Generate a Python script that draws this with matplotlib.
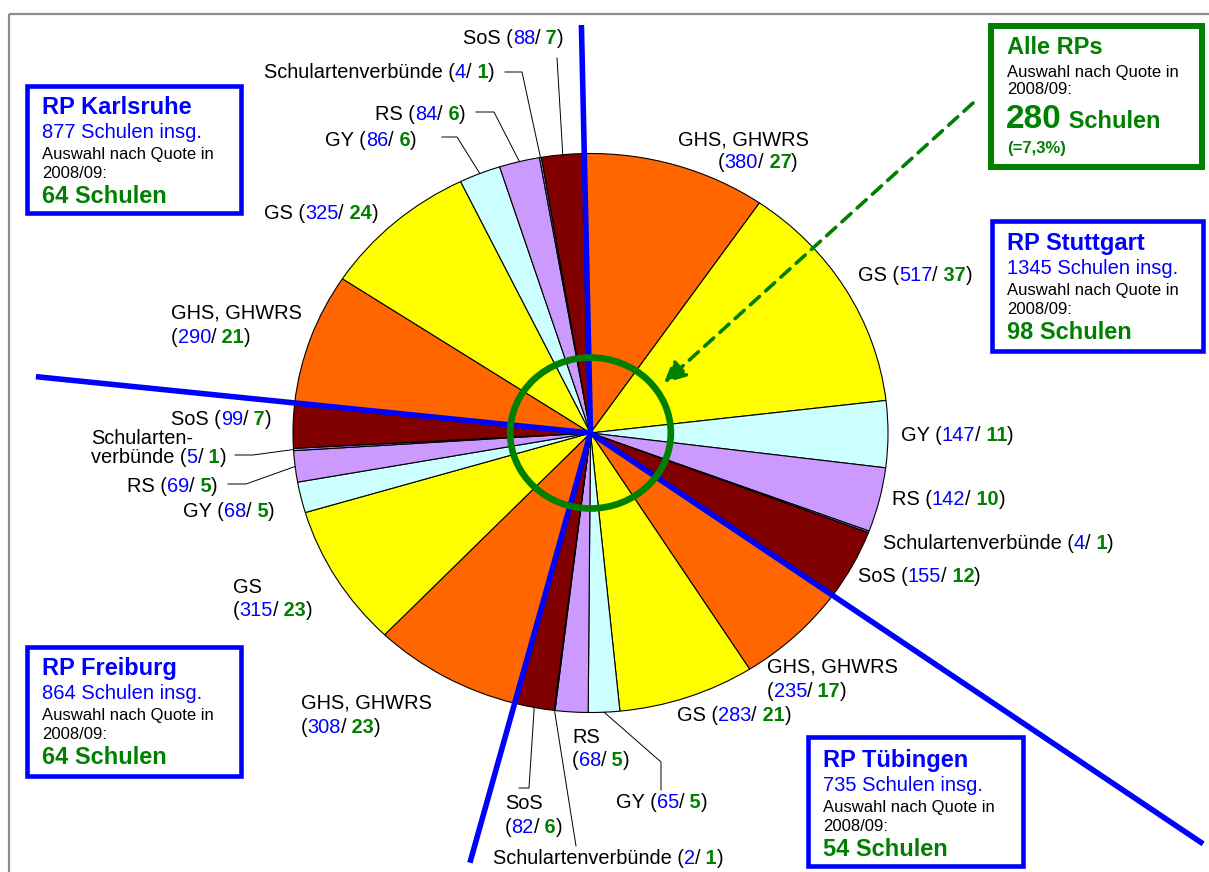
import numpy as np
import matplotlib.pyplot as plt
from matplotlib.patches import Rectangle, Ellipse
from matplotlib.offsetbox import TextArea, HPacker, AnnotationBbox

plt.rcParams['font.family'] = ['Liberation Sans', 'DejaVu Sans']

# Schulen je Regierungspraesidium und Schulart: Gesamtzahl / ausgewaehlt
school_types = ['GHS, GHWRS', 'GS', 'GY', 'RS', 'Schulartenverbünde', 'SoS']
type_colors = ['#FF6600', '#FFFF00', '#CCFFFF', '#CC99FF', '#9999FF', '#800000']

regions = ['Stuttgart', 'Tübingen', 'Freiburg', 'Karlsruhe']
totals_stuttgart = [380, 517, 147, 142, 4, 155]
chosen_stuttgart = [27, 37, 11, 10, 1, 12]
totals_tuebingen = [235, 283, 65, 68, 2, 82]
chosen_tuebingen = [17, 21, 5, 5, 1, 6]
totals_freiburg = [308, 315, 68, 69, 5, 99]
chosen_freiburg = [23, 23, 5, 5, 1, 7]
totals_karlsruhe = [290, 325, 86, 84, 4, 88]
chosen_karlsruhe = [21, 24, 6, 6, 1, 7]
region_quota = [98, 54, 64, 64]

region_totals = [totals_stuttgart, totals_tuebingen, totals_freiburg, totals_karlsruhe]
totals = sum(region_totals, [])
chosen = chosen_stuttgart + chosen_tuebingen + chosen_freiburg + chosen_karlsruhe
colors = type_colors * len(regions)
grand = sum(totals)

W, H = 1209, 872
BLUE, GREEN = '#0000FF', '#008000'
LABEL_FS = 14.4

fig = plt.figure(figsize=(W / 100, H / 100), dpi=100)

# overlay in pixel coordinates for labels, boxes and lines
ov = fig.add_axes([0, 0, 1, 1], zorder=2)
ov.set_xlim(0, W)
ov.set_ylim(H, 0)
ov.axis('off')

# the pie is slightly flattened
cx, cy, rx, ry = 590.5, 433, 297.5, 279.5
start = 91.2
pax = fig.add_axes([(cx - rx) / W, (H - cy - ry) / H, 2 * rx / W, 2 * ry / H], zorder=1)
wedges, _ = pax.pie(totals, colors=colors, startangle=start, counterclock=False,
                    radius=1, wedgeprops=dict(edgecolor='black', linewidth=0.8))
pax.set_aspect('auto')
pax.set_xlim(-1, 1)
pax.set_ylim(-1, 1)
pax.axis('off')


def to_px(angle, t=1.0):
    a = np.radians(angle)
    return cx + t * rx * np.cos(a), cy - t * ry * np.sin(a)


# outer frame
ov.add_patch(Rectangle((9, 14), 1400, 1000, fill=False, edgecolor='#8C8C8C', lw=1.6))

# region dividers
ends = np.cumsum([sum(t) for t in region_totals])
reach = [2.53, 1.59, 1.875, 1.46]
for end, t in zip(ends, reach):
    x1, y1 = to_px(start - 360 * end / grand, t)
    ov.plot([cx, x1], [cy, y1], color=BLUE, lw=4, solid_capstyle='butt', zorder=3)

ov.add_patch(Ellipse((cx, cy), 2 * 0.27 * rx, 2 * 0.27 * ry, fill=False,
                     edgecolor=GREEN, lw=4.8, zorder=4))

# dashed arrow from the summary box to the centre
ov.annotate('', xy=(664, 383), xytext=(973, 103),
            arrowprops=dict(arrowstyle='-|>,head_length=1.3,head_width=0.65',
                            color=GREEN, lw=2.6, linestyle=(0, (3.4, 2.3)),
                            shrinkA=0, shrinkB=0), zorder=5)


def rich(x, y, parts, size=LABEL_FS):
    boxes = [TextArea(s, textprops=dict(color=c, fontsize=fs or size,
                                        fontweight='bold' if b else 'normal'))
             for s, c, b, fs in parts]
    row = HPacker(children=boxes, align='baseline', pad=0, sep=0)
    ov.add_artist(AnnotationBbox(row, (x, y), xycoords='data', box_alignment=(0, 0.5),
                                 frameon=False, pad=0, zorder=6))


# label layout: first line (x, y), optional second line (x, y)
label_pos = [
    (678, 140, 718, 163), (858, 275, None, None), (901, 435, None, None),
    (892, 499, None, None), (883, 543, None, None), (858, 576, None, None),
    (767, 667, 767, 691), (677, 715, None, None), (616, 802, None, None),
    (572, 737, 572, 760), (493, 858, None, None), (505, 803, 505, 827),
    (301, 703, 301, 727), (233, 587, 233, 610), (183, 511, None, None),
    (127, 486, None, None), (91, 438, 91, 457), (171, 419, None, None),
    (171, 313, 171, 337), (264, 213, None, None), (325, 141, None, None),
    (375, 114, None, None), (264, 72, None, None), (463, 38, None, None),
]
split_names = {16: ('Schularten-', 'verbünde ')}
leaders = {
    8: [(661, 790), (661, 762)],
    10: [(576, 846)],
    11: [(519, 788), (529, 788)],
    15: [(228, 484), (246, 484)],
    16: [(235, 455), (253, 455)],
    20: [(442, 137), (457, 137)],
    21: [(476, 112), (494, 112)],
    22: [(505, 72), (522, 72)],
    23: [(557, 58)],
}

for i, (tot, sel) in enumerate(zip(totals, chosen)):
    name = school_types[i % len(school_types)]
    x1, y1, x2, y2 = label_pos[i]
    values = [(str(tot), BLUE, False, None), ('/', 'black', False, None),
              (' ' + str(sel), GREEN, True, None), (')', 'black', False, None)]
    if x2 is None:
        rich(x1, y1, [(name + ' (', 'black', False, None)] + values)
    else:
        first, prefix = split_names.get(i, (name, ''))
        rich(x1, y1, [(first, 'black', False, None)])
        rich(x2, y2, [(prefix + '(', 'black', False, None)] + values)
    if i in leaders:
        w = wedges[i]
        ex, ey = to_px((w.theta1 + w.theta2) / 2)
        pts = leaders[i] + [(ex, ey)]
        ov.plot([p[0] for p in pts], [p[1] for p in pts], color='black', lw=0.7, zorder=5)

# summary boxes per region
box_rects = {
    'Stuttgart': (990, 219, 1205, 353),
    'Tübingen': (806, 735, 1025, 868),
    'Freiburg': (25, 645, 243, 778),
    'Karlsruhe': (25, 84, 243, 215),
}
box_tops = {'Stuttgart': 243, 'Tübingen': 760, 'Freiburg': 668, 'Karlsruhe': 107}
for name, tot, quota in zip(regions, region_totals, region_quota):
    x0, y0, x1, y1 = box_rects[name]
    ov.add_patch(Rectangle((x0 + 2, y0 + 2), x1 - x0 - 4, y1 - y0 - 4, fill=False,
                           edgecolor=BLUE, lw=3.3, zorder=6))
    tx, ty = x0 + 17, box_tops[name]
    ov.text(tx, ty, 'RP ' + name, color=BLUE, fontsize=17, fontweight='bold', va='center')
    ov.text(tx, ty + 25, f'{sum(tot)} Schulen insg.', color=BLUE, fontsize=14.5, va='center')
    ov.text(tx, ty + 47, 'Auswahl nach Quote in', color='black', fontsize=12, va='center')
    ov.text(tx, ty + 66, '2008/09:', color='black', fontsize=12, va='center')
    ov.text(tx, ty + 89, f'{quota} Schulen', color=GREEN, fontsize=17, fontweight='bold',
            va='center')

# overall box
ov.add_patch(Rectangle((991, 26), 211, 141, fill=False, edgecolor=GREEN, lw=4.3, zorder=6))
ov.text(1007, 48, 'Alle RPs', color=GREEN, fontsize=17, fontweight='bold', va='center')
ov.text(1007, 72, 'Auswahl nach Quote in', color='black', fontsize=12, va='center')
ov.text(1007, 90, '2008/09:', color='black', fontsize=12, va='center')
n_all = sum(region_quota)
rich(1006, 120, [(str(n_all), GREEN, True, 24), (' Schulen', GREEN, True, 17)])
share = f'{100 * n_all / grand:.1f}'.replace('.', ',')
ov.text(1007, 148, f'(={share}%)', color=GREEN, fontsize=12, fontweight='bold', va='center')

fig.savefig('out.png', dpi=100)
